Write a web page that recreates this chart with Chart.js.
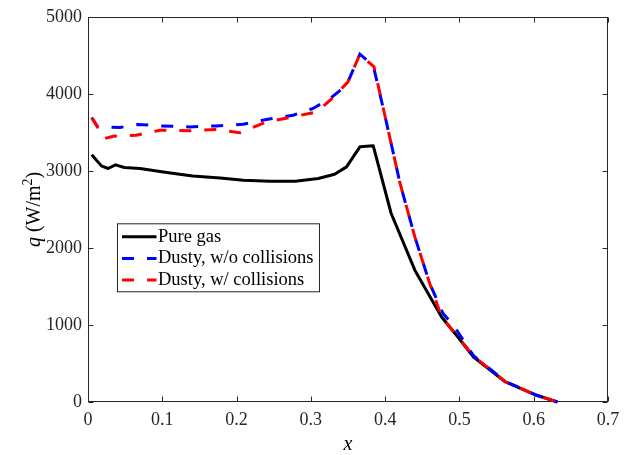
<!DOCTYPE html>
<html>
<head>
<meta charset="utf-8">
<script src="https://cdn.jsdelivr.net/npm/chart.js@4.4.1/dist/chart.umd.min.js"></script>
<style>
    html, body { margin: 0; padding: 0; background: #fff; }
    #grafica { display: block; }
</style>
</head>
<body>
<canvas id="grafica" width="632" height="455"></canvas>
<script>
// ——— Datos ——————————————————————
const xGas = [0.005, 0.018, 0.027, 0.037, 0.049, 0.07, 0.106, 0.141, 0.178, 0.209, 0.245, 0.279, 0.31, 0.332, 0.348, 0.366, 0.384, 0.408, 0.44, 0.476, 0.496, 0.519, 0.562, 0.604, 0.632];
const qGas = [3210, 3065, 3031, 3078, 3044, 3031, 2979, 2935, 2909, 2879, 2866, 2866, 2901, 2957, 3052, 3312, 3325, 2450, 1711, 1104, 866, 584, 260, 87, 0];

const xSinColision = [0.005, 0.013, 0.043, 0.067, 0.097, 0.137, 0.173, 0.209, 0.24, 0.276, 0.303, 0.326, 0.348, 0.366, 0.384, 0.398, 0.42, 0.44, 0.46, 0.478, 0.492, 0.519, 0.562, 0.604, 0.632];
const qSinColision = [3693, 3571, 3563, 3603, 3584, 3571, 3584, 3606, 3667, 3723, 3810, 3940, 4113, 4515, 4365, 3790, 2840, 2143, 1538, 1148, 996, 600, 265, 87, 0];

const xConColision = [0.005, 0.0225, 0.034, 0.065, 0.097, 0.137, 0.173, 0.204, 0.24, 0.276, 0.308, 0.33, 0.35, 0.366, 0.385, 0.398, 0.42, 0.44, 0.46, 0.476, 0.496, 0.519, 0.562, 0.604, 0.632];
const qConColision = [3690, 3420, 3450, 3463, 3528, 3520, 3537, 3494, 3636, 3701, 3766, 3953, 4156, 4515, 4351, 3790, 2840, 2143, 1538, 1104, 866, 595, 262, 87, 0];

const etiquetas = ["Pure gas", "Dusty, w/o collisions", "Dusty, w/ collisions"];
const ticksX = [0, 0.1, 0.2, 0.3, 0.4, 0.5, 0.6, 0.7];
const ticksY = [0, 1000, 2000, 3000, 4000, 5000];

const SERIF = '"Liberation Serif", "Times New Roman", serif';
const GRIS = "#262626";

function puntos(xs, ys) {
    return xs.map((x, i) => ({ x: x, y: ys[i] }));
}

// ——— Plugins ——————————————————————————————————————————
// caja de ejes con ticks hacia dentro (estilo MATLAB)
const marcoEjes = {
    id: "marcoEjes",
    beforeDatasetsDraw(chart) {
        const { ctx, chartArea: a, scales } = chart;
        const l = Math.round(a.left) + 0.5, r = Math.round(a.right) - 0.5;
        const t = Math.round(a.top) + 0.5, b = Math.round(a.bottom) - 0.5;
        ctx.save();
        ctx.strokeStyle = GRIS;
        ctx.lineWidth = 1;
        ctx.strokeRect(l, t, r - l, b - t);
        ctx.beginPath();
        ticksX.forEach((v) => {
            const px = Math.round(scales.x.getPixelForValue(v)) + 0.5;
            ctx.moveTo(px, b); ctx.lineTo(px, b - 5);
            ctx.moveTo(px, t); ctx.lineTo(px, t + 5);
        });
        ticksY.forEach((v) => {
            const py = Math.round(scales.y.getPixelForValue(v)) + 0.5;
            ctx.moveTo(l, py); ctx.lineTo(l + 5, py);
            ctx.moveTo(r, py); ctx.lineTo(r - 5, py);
        });
        ctx.stroke();
        ctx.restore();
    },
};

// titulo del eje y: q en cursiva y exponente
const tituloY = {
    id: "tituloY",
    afterDraw(chart) {
        const { ctx, chartArea: a } = chart;
        const partes = [
            { t: "q", f: "italic 20px " + SERIF, dy: 0 },
            { t: " (W/m", f: "20px " + SERIF, dy: 0 },
            { t: "2", f: "14px " + SERIF, dy: -8 },
            { t: ")", f: "20px " + SERIF, dy: 0 },
        ];
        ctx.save();
        let total = 0;
        partes.forEach((p) => { ctx.font = p.f; p.w = ctx.measureText(p.t).width; total += p.w; });
        ctx.translate(40, (a.top + a.bottom) / 2);
        ctx.rotate(-Math.PI / 2);
        ctx.fillStyle = "#000";
        ctx.textBaseline = "alphabetic";
        let x = -total / 2;
        partes.forEach((p) => {
            ctx.font = p.f;
            ctx.fillText(p.t, x, p.dy);
            x += p.w;
        });
        ctx.restore();
    },
};

// leyenda dentro del área
const leyenda = {
    id: "leyenda",
    afterDraw(chart) {
        const { ctx, chartArea: a } = chart;
        const caja = { x: a.left + 29.5, y: a.top + 207, w: 202, h: 68 };
        ctx.save();
        ctx.fillStyle = "#fff";
        ctx.fillRect(caja.x, caja.y, caja.w, caja.h);
        ctx.strokeStyle = GRIS;
        ctx.lineWidth = 1;
        ctx.strokeRect(caja.x, caja.y, caja.w, caja.h);
        chart.data.datasets.forEach((ds, i) => {
            const yFila = caja.y + 13 + i * 21.6;
            ctx.beginPath();
            ctx.strokeStyle = ds.borderColor;
            ctx.lineWidth = ds.borderWidth;
            ctx.setLineDash(ds.borderDash || []);
            ctx.moveTo(caja.x + 4.5, yFila);
            ctx.lineTo(caja.x + 39, yFila);
            ctx.stroke();
            ctx.setLineDash([]);
            ctx.fillStyle = "#000";
            ctx.font = "18.5px " + SERIF;
            ctx.textBaseline = "middle";
            ctx.fillText(ds.label, caja.x + 40.5, yFila);
        });
        ctx.restore();
    },
};

// ——— Principal ——————————————————————————————————————
Chart.defaults.font.family = SERIF;

const ctx = document.getElementById("grafica").getContext("2d");
new Chart(ctx, {
    type: "line",
    data: {
        datasets: [
            {
                label: etiquetas[0],
                data: puntos(xGas, qGas),
                borderColor: "#000000",
                borderWidth: 3,
                borderJoinStyle: "round",
                order: 2,
            },
            {
                label: etiquetas[1],
                data: puntos(xSinColision, qSinColision),
                borderColor: "#0000ff",
                borderWidth: 3,
                borderDash: [12, 13],
                order: 1,
            },
            {
                label: etiquetas[2],
                data: puntos(xConColision, qConColision),
                borderColor: "#ff0000",
                borderWidth: 3,
                borderDash: [12, 13],
                order: 0,
            },
        ],
    },
    options: {
        responsive: false,
        animation: false,
        events: [],
        layout: { padding: { top: 16, right: 24, bottom: 0, left: 0 } },
        elements: { point: { radius: 0 }, line: { tension: 0, fill: false } },
        datasets: { line: { clip: 6 } },
        plugins: { legend: { display: false }, tooltip: { enabled: false } },
        scales: {
            x: {
                type: "linear",
                min: 0,
                max: 0.7,
                afterFit: (s) => { s.height = 53; },
                afterBuildTicks: (s) => { s.ticks = ticksX.map((v) => ({ value: v })); },
                grid: { display: false, drawTicks: false },
                border: { display: false },
                ticks: {
                    padding: 7,
                    color: GRIS,
                    font: { size: 18 },
                    maxRotation: 0,
                    autoSkip: false,
                    callback: (v) => String(Math.round(v * 10) / 10),
                },
                title: {
                    display: true,
                    text: "x",
                    color: "#000",
                    font: { size: 20, style: "italic", lineHeight: 1 },
                    padding: { top: 0, bottom: 0 },
                },
            },
            y: {
                type: "linear",
                min: 0,
                max: 5000,
                afterFit: (s) => { s.width = 88; },
                afterBuildTicks: (s) => { s.ticks = ticksY.map((v) => ({ value: v })); },
                grid: { display: false, drawTicks: false },
                border: { display: false },
                ticks: {
                    padding: 6,
                    color: GRIS,
                    font: { size: 18 },
                    callback: (v) => String(v),
                },
            },
        },
    },
    plugins: [marcoEjes, tituloY, leyenda],
});
</script>
</body>
</html>
